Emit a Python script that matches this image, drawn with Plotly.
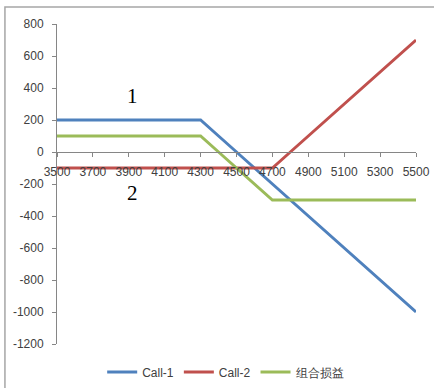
import plotly.graph_objects as go

# Underlying price at expiry
prices = [3500, 3600, 3700, 3800, 3900, 4000, 4100, 4200, 4300, 4400, 4500,
          4600, 4700, 4800, 4900, 5000, 5100, 5200, 5300, 5400, 5500]

# Profit / loss per position
call_1 = [200, 200, 200, 200, 200, 200, 200, 200, 200, 100, 0,
          -100, -200, -300, -400, -500, -600, -700, -800, -900, -1000]
call_2 = [-100, -100, -100, -100, -100, -100, -100, -100, -100, -100, -100,
          -100, -100, 0, 100, 200, 300, 400, 500, 600, 700]
combo = [100, 100, 100, 100, 100, 100, 100, 100, 100, 0, -100,
         -200, -300, -300, -300, -300, -300, -300, -300, -300, -300]

series_names = ["Call-1", "Call-2", "组合损益"]
series_colors = ["#4F81BD", "#C0504D", "#9BBB59"]

x_ticks = [3500, 3700, 3900, 4100, 4300, 4500, 4700, 4900, 5100, 5300, 5500]
y_ticks = [-1200, -1000, -800, -600, -400, -200, 0, 200, 400, 600, 800]

# Region markers
region_labels = ["1", "2"]
region_x = [3920, 3920]
region_y = [350, -255]

Y_MIN, Y_MAX = -1200, 800

fig = go.Figure()
for name, vals, color in zip(series_names, [call_1, call_2, combo], series_colors):
    fig.add_trace(go.Scatter(
        x=prices, y=vals, mode="lines", name=name,
        line=dict(color=color, width=3),
    ))

for txt, xv, yv in zip(region_labels, region_x, region_y):
    fig.add_annotation(
        x=xv, y=yv, text=txt, showarrow=False,
        font=dict(family="Liberation Serif", size=21, color="#000000"),
    )

axis_font = dict(family="Liberation Sans", size=12, color="#404040")

fig.update_layout(
    width=434, height=388,
    margin=dict(l=57, r=18, t=24, b=44, autoexpand=False),
    paper_bgcolor="white", plot_bgcolor="white",
    showlegend=True,
    legend=dict(
        orientation="h", xref="container", yref="container",
        x=0.52, y=0.041, xanchor="center", yanchor="middle",
        font=dict(family="Liberation Sans", size=12, color="#404040"),
        itemwidth=30, tracegroupgap=0,
    ),
    xaxis=dict(
        range=[3500, 5500], tickvals=x_ticks, ticktext=[str(v) for v in x_ticks],
        anchor="free", position=(0 - Y_MIN) / (Y_MAX - Y_MIN),
        showgrid=False, zeroline=False, showline=True,
        linecolor="#868686", linewidth=1,
        ticks="outside", ticklen=4, tickcolor="#868686",
        tickfont=axis_font, ticklabelstandoff=5, automargin=False,
    ),
    yaxis=dict(
        range=[Y_MIN, Y_MAX], tickvals=y_ticks, ticktext=[str(v) for v in y_ticks],
        showgrid=False, zeroline=False, showline=True,
        linecolor="#868686", linewidth=1,
        ticks="outside", ticklen=4, tickcolor="#868686",
        tickfont=axis_font, ticklabelstandoff=6, automargin=False,
    ),
)

# Chart frame (top and left edges visible)
fig.add_shape(
    type="rect", xref="paper", yref="paper",
    x0=-0.145, x1=1.08, y0=-0.2, y1=1.053,
    line=dict(color="#a6a6a6", width=1.5), layer="below",
)

fig.write_html("out.html")
